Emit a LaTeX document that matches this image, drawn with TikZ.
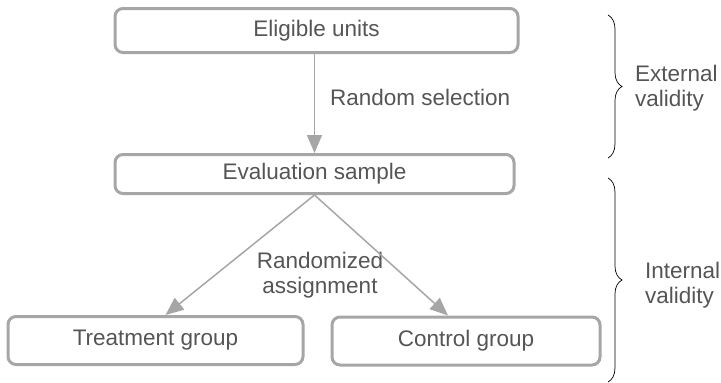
\documentclass[tikz,border=0pt]{standalone}
\usepackage{fontspec}
\setmainfont{Liberation Sans}
\usetikzlibrary{arrows.meta,decorations.pathreplacing,calc}
\definecolor{txtc}{RGB}{85,85,85}
\definecolor{boxc}{RGB}{166,166,166}
\tikzset{
  box/.style={draw=boxc, line width=3pt, rounded corners=8pt, fill=white,
    text=txtc, font=\fontsize{22.5}{25}\selectfont, inner sep=0pt},
  lbl/.style={text=txtc, font=\fontsize{22.5}{25}\selectfont, inner sep=0pt},
  arr/.style={draw=boxc, line width=1.5pt, -{Triangle[length=18pt,width=15pt]}},
  brc/.style={draw=black, line width=0.7pt, decorate, decoration={brace, amplitude=14pt}}
}
\begin{document}
\begin{tikzpicture}[x=1pt,y=-1pt]
\useasboundingbox (0,0) rectangle (721,383);
\node[box, minimum width=403pt, minimum height=44pt] (elig) at (316.5,30.5) {Eligible units};
\node[box, minimum width=399pt, minimum height=39pt] (eval) at (314.5,174) {Evaluation sample};
\node[box, minimum width=295pt, minimum height=48pt] (treat) at (155.5,340.5) {Treatment group};
\node[box, minimum width=268pt, minimum height=48pt] (ctrl) at (466,341) {Control group};
\node[lbl, anchor=west] (rs) at (330,97) {Random selection};
\node[lbl, align=center] (ra) at (320,275) {Randomized\\assignment};
\draw[arr] (elig.south -| eval.north) -- (eval.north);
\draw[arr] (eval.south) -- ([xshift=10pt]treat.north);
\draw[arr] (eval.south) -- ([xshift=-18pt]ctrl.north);
\coordinate (b1t) at (608,15);
\coordinate (b1b) at (608,158);
\coordinate (b2t) at (608,178);
\coordinate (b2b) at (608,382);
\draw[brc] (b1t) -- (b1b);
\draw[brc] (b2t) -- (b2b);
\node[lbl, align=left, anchor=west] (ext) at (635,88) {External\\validity};
\node[lbl, align=left, anchor=west] (int) at (645,285) {Internal\\validity};
\end{tikzpicture}
\end{document}
